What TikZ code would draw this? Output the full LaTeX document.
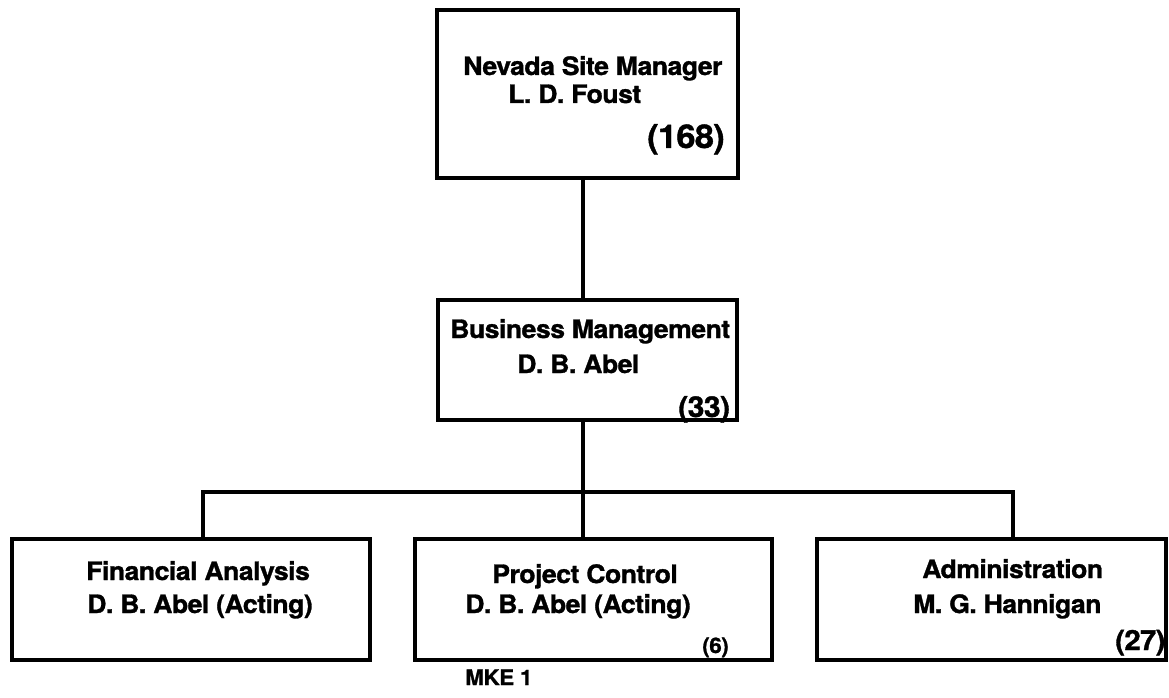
\documentclass[tikz,border=0pt]{standalone}
\usepackage{fontspec}
\setmainfont[FakeStretch=1.05, FakeBold=1.2, LetterSpace=-2]{TeX Gyre Heros}

\tikzset{
	orgbox/.style={draw, line width=2.5pt, inner sep=0pt, outer sep=0pt},
	conn/.style={line width=2.3pt},
	txt/.style={anchor=base west, inner sep=0pt, font=\bfseries\fontsize{19}{22}\selectfont},
	num/.style={anchor=base west, inner sep=0pt, font=\bfseries\fontsize{#1}{#1}\selectfont},
}

\begin{document}
\begin{tikzpicture}[x=0.75pt, y=-0.75pt]
	\useasboundingbox (0,0) rectangle (1169,698);

	\node [orgbox, minimum width=225.75pt, minimum height=126pt] (site) at (587.5,94) {};
	\node [orgbox, minimum width=224.25pt, minimum height=90pt] (biz) at (587.5,360) {};
	\node [orgbox, minimum width=268.5pt, minimum height=90.75pt] (fin) at (191,599.5) {};
	\node [orgbox, minimum width=267.75pt, minimum height=90.75pt] (proj) at (593.5,599.5) {};
	\node [orgbox, minimum width=261.75pt, minimum height=90.75pt] (admin) at (991.5,599.5) {};

	\coordinate (bus) at (583,492);
	\coordinate (busL) at (203,492);
	\coordinate (busR) at (1013,492);
	\draw [conn] (site.south -| bus) -- (biz.north -| bus);
	\draw [conn] (biz.south -| bus) -- (proj.north -| bus);
	\draw [conn] (fin.north -| busL) -- (busL) -- (busR) -- (admin.north -| busR);

	\node [txt] (siteT) at (463,75) {Nevada Site Manager};
	\node [txt] (siteN) at (508,103) {L. D. Foust};
	\node [num=24.5] (siteC) at (647,148) {(168)};

	\node [txt] (bizT) at (450,338) {Business Management};
	\node [txt] (bizN) at (517,373) {D. B. Abel};
	\node [num=21.5] (bizC) at (678,417) {(33)};

	\node [txt] (finT) at (86,580) {Financial Analysis};
	\node [txt] (finN) at (87,613) {D. B. Abel (Acting)};

	\node [txt] (projT) at (492,583) {Project Control};
	\node [txt] (projN) at (465,613) {D. B. Abel (Acting)};
	\node [num=16] (projC) at (702,653) {(6)};

	\node [txt] (adminT) at (922,578) {Administration};
	\node [txt] (adminN) at (913,613) {M. G. Hannigan};
	\node [num=20.8] (adminC) at (1115,650) {(27)};

	\node [num=16] (mke) at (465,685) {MKE 1};
\end{tikzpicture}
\end{document}
